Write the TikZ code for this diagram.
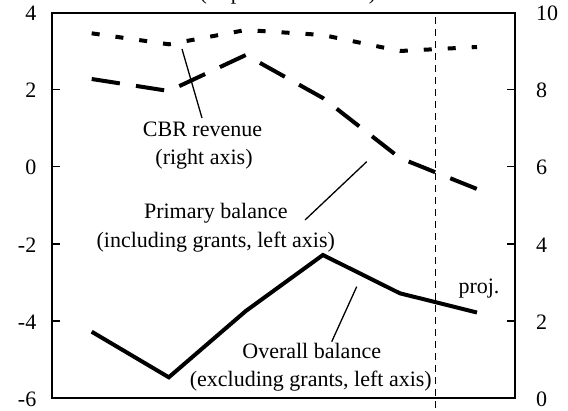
\documentclass[tikz,border=0pt]{standalone}
\usepackage{fontspec}
\setmainfont{Liberation Serif}
\begin{document}
\begin{tikzpicture}[x=1pt,y=-1pt,
  lbl/.style={font=\fontsize{22}{26}\selectfont, inner sep=0pt, anchor=base},
  ticklbl/.style={font=\fontsize{22}{26}\selectfont, inner sep=0pt},
  frameline/.style={line width=2pt},
  tickline/.style={line width=1.5pt},
  overall/.style={line width=4pt, line join=miter},
  primary/.style={line width=4pt, dash pattern=on 28.5pt off 16.3pt},
  cbr/.style={line width=4pt, dash pattern=on 8pt off 16pt},
  projline/.style={line width=1.5pt, dash pattern=on 7pt off 5pt},
  leader/.style={line width=1.3pt}]
\clip (0,0) rectangle (568,410);
\fill[white] (0,0) rectangle (568,410);
% title (clipped at top)
\node[lbl] (title) at (288,-1) {(In percent of GDP)};
% frame
\draw[frameline] (52,12.5) rectangle (515,398);
% ticks
\foreach \yy in {89.6,166.7,243.8,320.9} {
  \draw[tickline] (52,\yy) -- (60,\yy);
  \draw[tickline] (507,\yy) -- (515,\yy);
}
% left labels
\foreach \v [count=\i from 0] in {4,2,0,-2,-4,-6} {
  \node[ticklbl, anchor=east] (L\i) at (36.5,{12.5+\i*77.1+1}) {\v};
}
% right labels
\foreach \v [count=\i from 0] in {10,8,6,4,2,0} {
  \node[ticklbl, anchor=west] (R\i) at (536,{12.5+\i*77.1+1}) {\v};
}
% projection divider
\coordinate (pTop) at (435.5,17);
\coordinate (pBot) at (435.5,410);
\draw[projline] (pTop) -- (pBot);
% series
\draw[cbr] (91.7,33.3) -- (168.8,44.3) -- (245.8,30) -- (322.9,35) -- (399.9,51) -- (477,47);
\draw[primary] (91.7,79) -- (168.8,91) -- (245.8,55) -- (322.9,98) -- (399.9,158) -- (477,189);
\draw[overall] (91.7,331.7) -- (168.8,377.3) -- (245.8,311) -- (322.9,255) -- (399.9,293.3) -- (477,312.5);
% labels
\node[lbl] (cbr1) at (202.5,136.7) {CBR revenue};
\node[lbl] (cbr2) at (204,164) {(right axis)};
\node[lbl] (prim1) at (215.8,218.3) {Primary balance};
\node[lbl] (prim2) at (215.8,247.3) {(including grants, left axis)};
\node[lbl] (over1) at (311.7,358.3) {Overall balance};
\node[lbl] (over2) at (310.8,386.7) {(excluding grants, left axis)};
\node[lbl] (proj) at (479,293) {proj.};
% leader lines
\coordinate (cbrA) at (182,49);
\coordinate (cbrB) at (202,118);
\coordinate (primA) at (305,220);
\coordinate (primB) at (366.7,161.7);
\coordinate (overA) at (331.7,341.7);
\coordinate (overB) at (356.7,286.7);
\draw[leader] (cbrA) -- (cbrB);
\draw[leader] (primA) -- (primB);
\draw[leader] (overA) -- (overB);
\end{tikzpicture}
\end{document}
